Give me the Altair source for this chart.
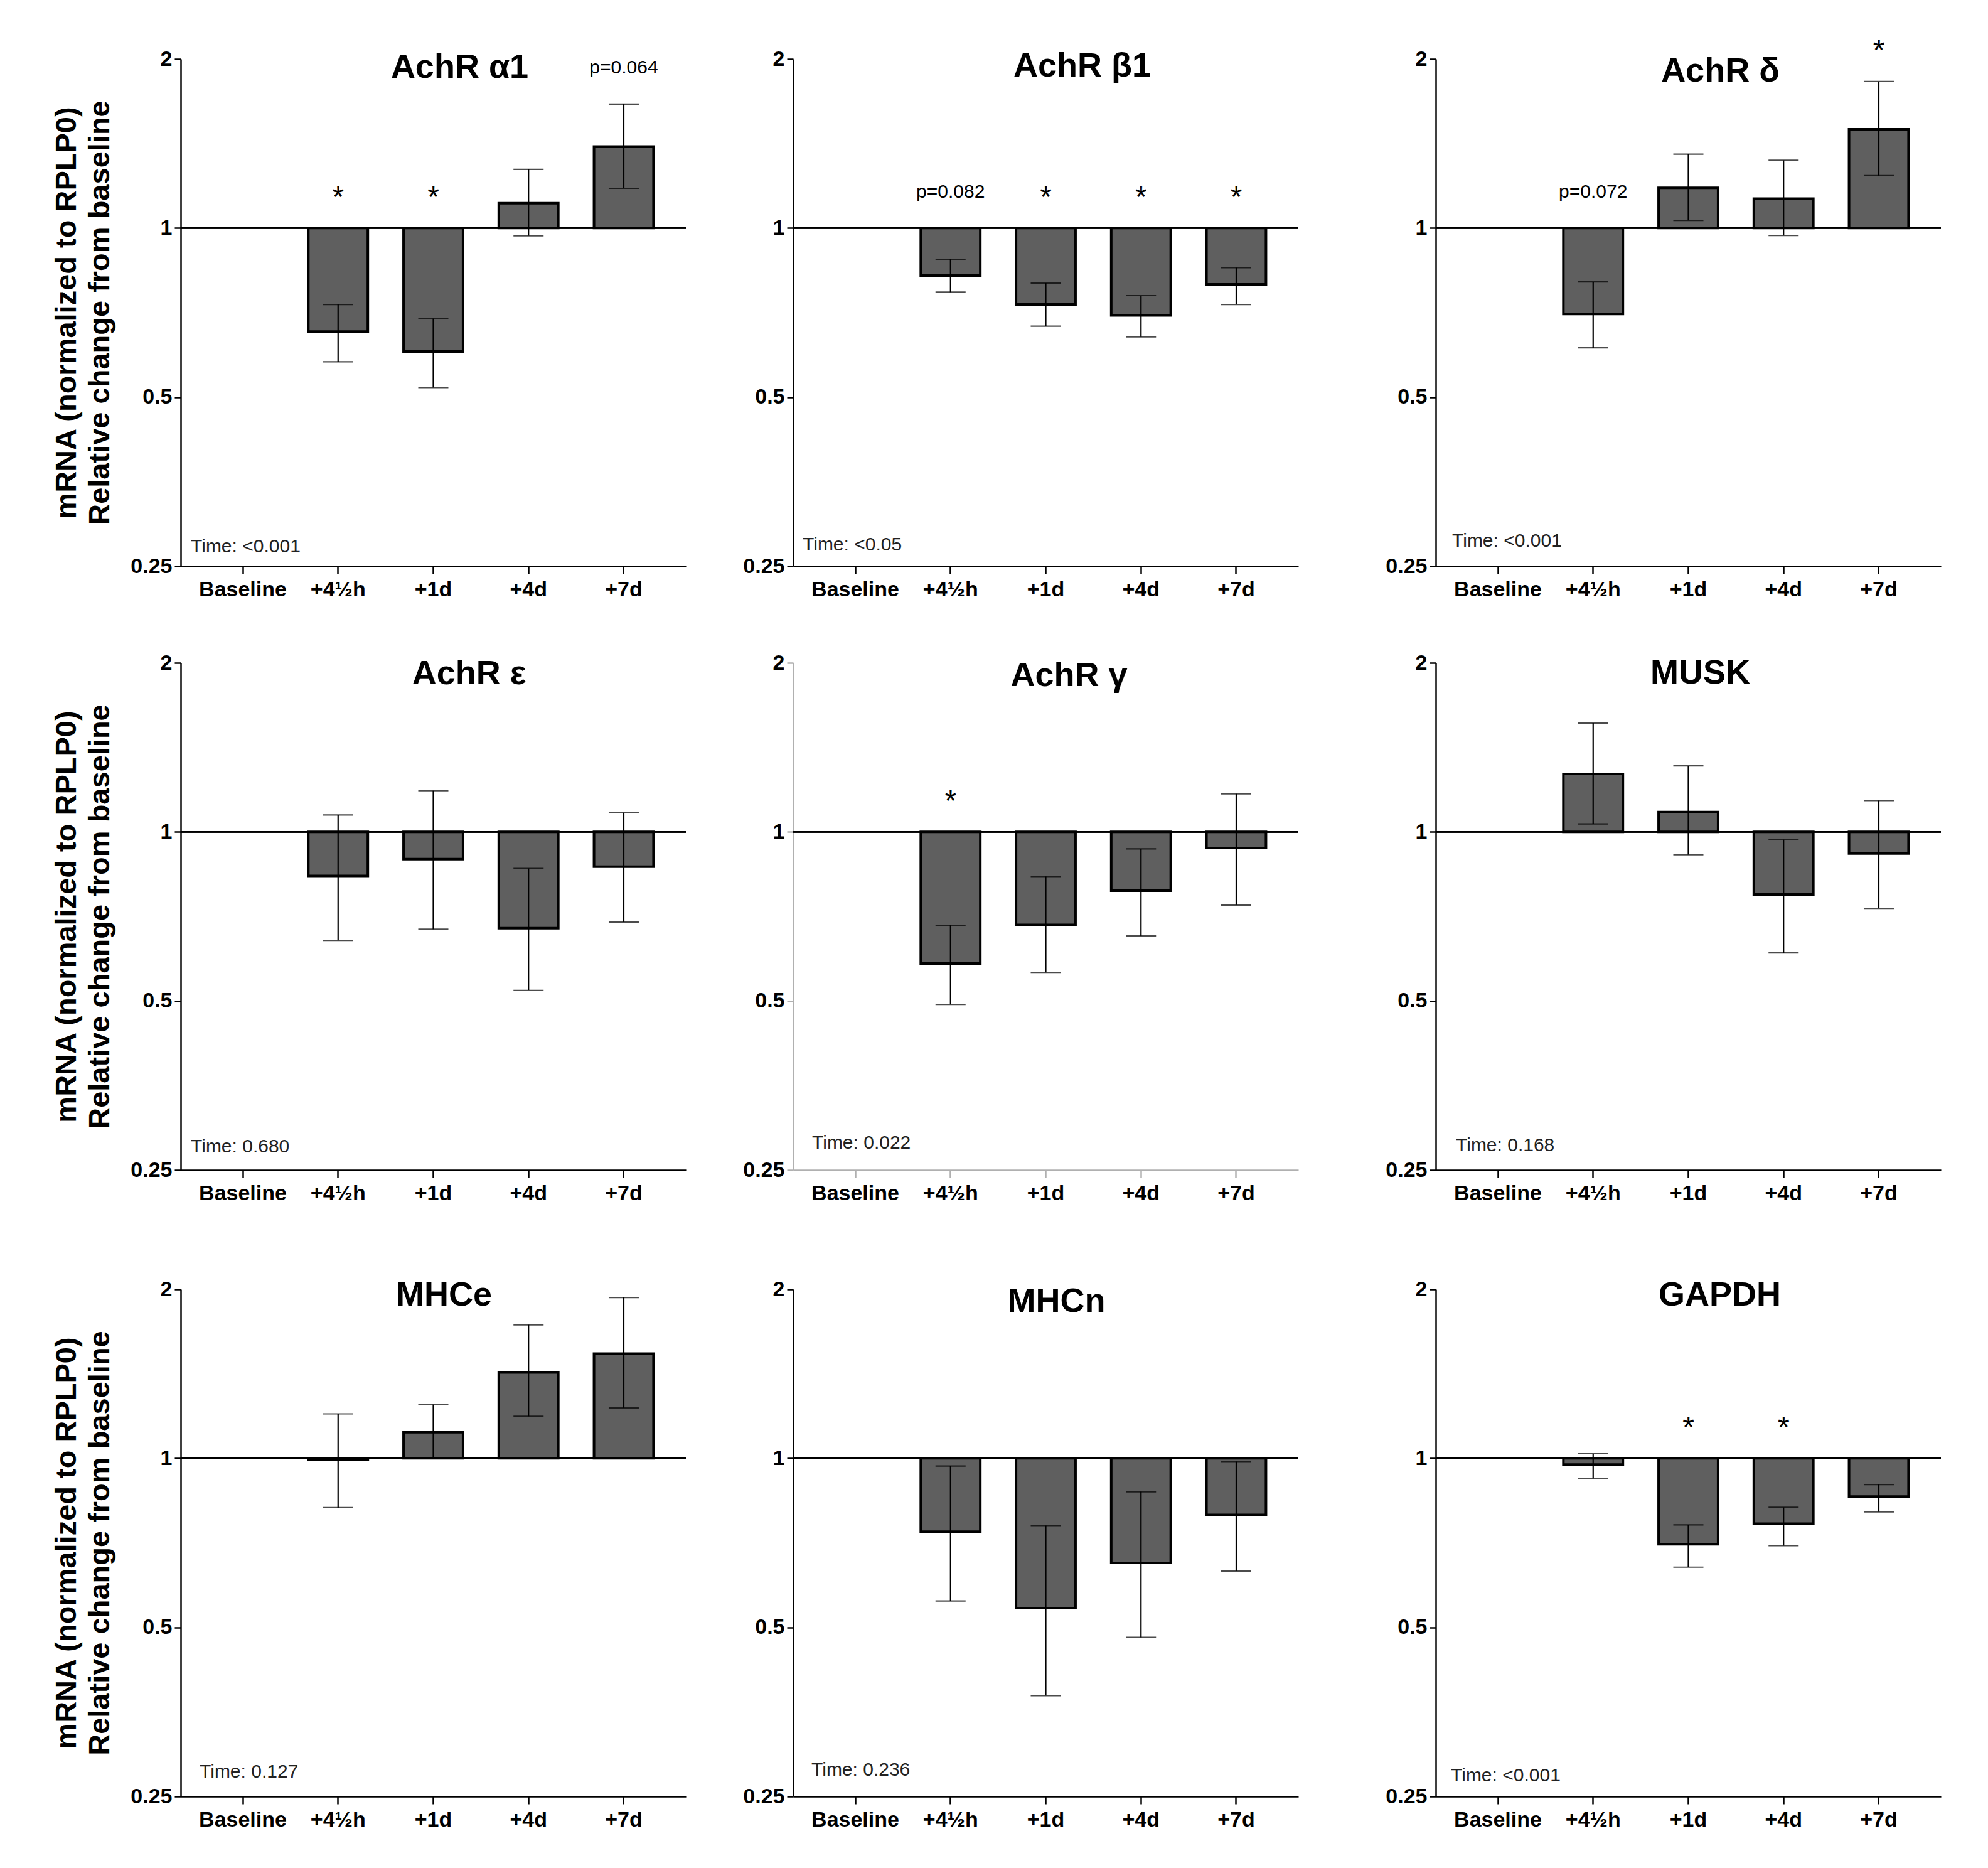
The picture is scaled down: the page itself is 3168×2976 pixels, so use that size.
import altair as alt
import pandas as pd

# ---------------- data ----------------
categories = ["Baseline", "+4½h", "+1d", "+4d", "+7d"]
timepoints = categories[1:]

genes = ["AchR α1", "AchR β1", "AchR δ",
         "AchR ε", "AchR γ", "MUSK",
         "MHCe", "MHCn", "GAPDH"]

# relative change from baseline (baseline = 1) for +4½h, +1d, +4d, +7d
mean_values = [
    [0.654, 0.603, 1.107, 1.397],   # AchR a1
    [0.823, 0.731, 0.699, 0.794],   # AchR b1
    [0.703, 1.179, 1.128, 1.499],   # AchR d
    [0.835, 0.894, 0.674, 0.867],   # AchR e
    [0.583, 0.683, 0.786, 0.936],   # AchR g
    [1.268, 1.085, 0.774, 0.915],   # MUSK
    [0.995, 1.113, 1.422, 1.536],   # MHCe
    [0.740, 0.541, 0.651, 0.793],   # MHCn
    [0.975, 0.703, 0.765, 0.855],   # GAPDH
]
lower_values = [
    [0.578, 0.520, 0.969, 1.177],
    [0.769, 0.669, 0.640, 0.731],
    [0.612, 1.032, 0.970, 1.240],
    [0.641, 0.671, 0.522, 0.691],
    [0.493, 0.562, 0.653, 0.741],
    [1.033, 0.911, 0.609, 0.731],
    [0.817, 1.000, 1.188, 1.230],
    [0.557, 0.378, 0.480, 0.630],
    [0.921, 0.640, 0.699, 0.803],
]
upper_values = [
    [0.731, 0.690, 1.272, 1.662],
    [0.880, 0.798, 0.758, 0.850],
    [0.802, 1.354, 1.320, 1.824],
    [1.072, 1.184, 0.861, 1.082],
    [0.682, 0.833, 0.933, 1.169],
    [1.562, 1.311, 0.969, 1.137],
    [1.200, 1.247, 1.729, 1.934],
    [0.969, 0.759, 0.872, 0.987],
    [1.019, 0.761, 0.818, 0.898],
]
sig_marks = [
    ["*", "*", "", "p=0.064"],
    ["p=0.082", "*", "*", "*"],
    ["p=0.072", "", "", "*"],
    ["", "", "", ""],
    ["*", "", "", ""],
    ["", "", "", ""],
    ["", "", "", ""],
    ["", "", "", ""],
    ["", "*", "*", ""],
]
time_effect = ["Time: <0.001", "Time: <0.05", "Time: <0.001",
               "Time: 0.680", "Time: 0.022", "Time: 0.168",
               "Time: 0.127", "Time: 0.236", "Time: <0.001"]
y_ticks = [0.25, 0.5, 1, 2]

# ---------------- layout / style ----------------
W, H = 805, 808
FONT = "Liberation Sans"
title_dx = [42, 58, 51, 57, 37, 19, 17, 17, 50]
title_dy = [14, 12, 20, 18, 21, 17, 10, 20, 10]
time_dx = [16, 15, 26, 16, 30, 32, 30, 29, 24]
time_dy = [31, 34, 40, 37, 43, 39, 39, 42, 33]
axis_colors = ["black", "black", "black", "black", "#b0b0b0", "black", "black", "black", "black"]


def panel(i, show_ytitle):
    df = pd.DataFrame({
        "time": timepoints,
        "mean": mean_values[i],
        "lo": lower_values[i],
        "hi": upper_values[i],
        "sig": sig_marks[i],
    })
    df["base"] = 1.0
    df["sig_y"] = df["hi"].clip(lower=1.0) * 1.16
    ac = axis_colors[i]

    xenc = alt.X(
        "time:N",
        scale=alt.Scale(domain=categories, paddingInner=0.375, paddingOuter=0.34),
        axis=alt.Axis(title=None, labelAngle=0, labelFont=FONT, labelFontSize=34,
                      labelFontWeight="bold", labelColor="black", tickSize=12,
                      tickWidth=2.5, tickColor=ac, domainColor=ac, domainWidth=2.5,
                      labelPadding=8, grid=False),
    )
    yscale = alt.Scale(type="log", domain=[0.25, 2], nice=False)
    yaxis = alt.Axis(
        values=y_ticks, format="~g", grid=False,
        title=(["mRNA (normalized to RPLP0)", "Relative change from baseline"]
               if show_ytitle else None),
        titleFont=FONT, titleFontSize=47, titleFontWeight="bold", titleColor="black",
        titleLineHeight=53, titlePadding=24,
        labelFont=FONT, labelFontSize=34, labelFontWeight="bold", labelColor="black",
        tickSize=10, tickWidth=2.5, tickColor=ac, domainColor=ac, domainWidth=2.5,
        labelPadding=4,
    )

    base = alt.Chart(df)
    baseline = base.mark_rule(color="black", strokeWidth=2.5).encode(
        y=alt.Y("base:Q", scale=yscale, axis=yaxis),
        x=alt.value(0), x2=alt.value(W),
    )
    bars = base.mark_bar(color="#5f5f5f", stroke="black", strokeWidth=4).encode(
        x=xenc, y=alt.Y("mean:Q", scale=yscale, axis=yaxis), y2="base:Q",
    )
    err = base.mark_rule(color="black", strokeWidth=2.2).encode(
        x=xenc, y=alt.Y("lo:Q", scale=yscale, axis=yaxis), y2="hi:Q",
    )
    cap_lo = base.mark_tick(color="black", size=48, thickness=2.2).encode(
        x=xenc, y=alt.Y("lo:Q", scale=yscale, axis=yaxis),
    )
    cap_hi = base.mark_tick(color="black", size=48, thickness=2.2).encode(
        x=xenc, y=alt.Y("hi:Q", scale=yscale, axis=yaxis),
    )
    stars = base.transform_filter("datum.sig == '*'").mark_text(
        font=FONT, fontSize=48, color="black", baseline="middle", dy=10,
    ).encode(x=xenc, y=alt.Y("sig_y:Q", scale=yscale, axis=yaxis), text="sig:N")
    pvals = base.transform_filter("length(datum.sig) > 1").mark_text(
        font=FONT, fontSize=30, color="black", baseline="middle",
    ).encode(x=xenc, y=alt.Y("sig_y:Q", scale=yscale, axis=yaxis), text="sig:N")

    title = alt.Chart(pd.DataFrame({"g": [genes[i]]})).mark_text(
        font=FONT, fontSize=54, fontWeight="bold", color="black",
        align="center", baseline="middle", dx=title_dx[i],
    ).encode(text="g:N", x=alt.value(W / 2), y=alt.value(title_dy[i]))

    tlabel = alt.Chart(pd.DataFrame({"t": [time_effect[i]]})).mark_text(
        font=FONT, fontSize=30, color="#222222", align="left", baseline="middle",
    ).encode(text="t:N", x=alt.value(time_dx[i]), y=alt.value(H - time_dy[i]))

    return alt.layer(baseline, bars, err, cap_lo, cap_hi, stars, pvals, title, tlabel).properties(
        width=W, height=H
    )


panels = [panel(i, i % 3 == 0) for i in range(9)]
rows = []
for r in range(3):
    p = panels[3 * r: 3 * r + 3]
    rows.append(alt.hconcat(p[0], alt.hconcat(p[1], p[2], spacing=136), spacing=88))

chart = alt.vconcat(rows[0], alt.vconcat(rows[1], rows[2], spacing=119), spacing=83).properties(
    padding={"top": 50, "left": 74, "right": 10, "bottom": 10},
    background="white",
).configure_view(stroke=None)

chart.save("out.html", embed_options={"renderer": "svg", "actions": False})
